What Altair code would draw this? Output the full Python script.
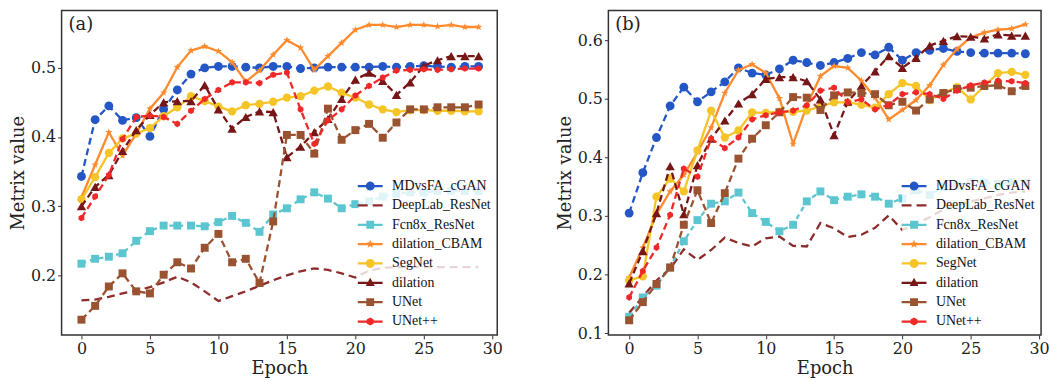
import math
import altair as alt
import pandas as pd

epochs = list(range(30))
names = ["MDvsFA_cGAN", "DeepLab_ResNet", "Fcn8x_ResNet", "dilation_CBAM",
         "SegNet", "dilation", "UNet", "UNet++"]
colors = ["#2457c5", "#8e2b2b", "#5cc6d0", "#ff8b2e",
          "#f5c426", "#761616", "#9a5330", "#f02828"]
panel_labels = ["(a)", "(b)"]
x_ticks = [0, 5, 10, 15, 20, 25, 30]
y_ticks_a = [0.2, 0.3, 0.4, 0.5]
y_ticks_b = [0.1, 0.2, 0.3, 0.4, 0.5, 0.6]

# ---- panel (a) values ----
a_mdvsfa = [0.343, 0.425, 0.445, 0.424, 0.428, 0.401, 0.44, 0.468, 0.491, 0.500,
            0.502, 0.502, 0.501, 0.500, 0.502, 0.502, 0.499, 0.500, 0.501, 0.501,
            0.501, 0.501, 0.502, 0.501, 0.502, 0.503, 0.502, 0.501, 0.502, 0.502]
a_deeplab = [0.164, 0.165, 0.169, 0.174, 0.178, 0.183, 0.19, 0.198, 0.19, 0.177,
             0.163, 0.17, 0.177, 0.185, 0.193, 0.2, 0.206, 0.21, 0.208, 0.203,
             0.197, 0.207, 0.211, 0.212, 0.212, 0.212, 0.212, 0.212, 0.212, 0.212]
a_fcn = [0.217, 0.224, 0.227, 0.232, 0.25, 0.264, 0.272, 0.272, 0.272, 0.271,
         0.277, 0.286, 0.276, 0.263, 0.288, 0.297, 0.31, 0.32, 0.311, 0.297,
         0.303, 0.307, 0.314, 0.318, 0.32, 0.32, 0.322, 0.322, 0.322, 0.322]
a_cbam = [0.313, 0.36, 0.407, 0.373, 0.405, 0.441, 0.464, 0.501, 0.525, 0.531,
          0.524, 0.508, 0.48, 0.496, 0.519, 0.54, 0.529, 0.497, 0.517, 0.536,
          0.555, 0.562, 0.562, 0.559, 0.562, 0.562, 0.56, 0.562, 0.559, 0.559]
a_segnet = [0.31, 0.342, 0.377, 0.398, 0.405, 0.413, 0.43, 0.443, 0.459, 0.452,
            0.444, 0.437, 0.446, 0.448, 0.451, 0.457, 0.459, 0.467, 0.473, 0.464,
            0.457, 0.447, 0.44, 0.436, 0.439, 0.439, 0.438, 0.438, 0.437, 0.437]
a_dilation = [0.30, 0.328, 0.345, 0.38, 0.41, 0.432, 0.45, 0.452, 0.452, 0.475,
              0.44, 0.412, 0.429, 0.437, 0.436, 0.371, 0.386, 0.407, 0.426, 0.455,
              0.483, 0.493, 0.481, 0.461, 0.479, 0.503, 0.511, 0.517, 0.517, 0.517]
a_unet = [0.136, 0.156, 0.184, 0.203, 0.177, 0.174, 0.201, 0.219, 0.21, 0.24,
          0.26, 0.219, 0.224, 0.189, 0.278, 0.403, 0.403, 0.376, 0.441, 0.396,
          0.41, 0.419, 0.399, 0.421, 0.44, 0.44, 0.443, 0.443, 0.443, 0.447]
a_unetpp = [0.283, 0.314, 0.345, 0.397, 0.429, 0.431, 0.429, 0.419, 0.438, 0.455,
            0.468, 0.479, 0.479, 0.478, 0.49, 0.493, 0.44, 0.39, 0.424, 0.44,
            0.46, 0.474, 0.486, 0.496, 0.497, 0.498, 0.497, 0.498, 0.499, 0.499]

# ---- panel (b) values ----
b_mdvsfa = [0.305, 0.374, 0.434, 0.488, 0.52, 0.495, 0.512, 0.529, 0.553, 0.544,
            0.541, 0.551, 0.566, 0.562, 0.557, 0.562, 0.569, 0.579, 0.575, 0.588,
            0.566, 0.579, 0.583, 0.586, 0.581, 0.579, 0.578, 0.578, 0.578, 0.577]
b_deeplab = [0.135, 0.162, 0.19, 0.21, 0.243, 0.225, 0.242, 0.263, 0.254, 0.248,
             0.262, 0.265, 0.249, 0.248, 0.288, 0.279, 0.264, 0.268, 0.28, 0.301,
             0.276, 0.287, 0.298, 0.311, 0.318, 0.325, 0.33, 0.336, 0.34, 0.342]
b_fcn = [0.128, 0.161, 0.181, 0.212, 0.257, 0.293, 0.321, 0.325, 0.34, 0.305,
         0.29, 0.274, 0.285, 0.325, 0.342, 0.327, 0.333, 0.337, 0.333, 0.321,
         0.33, 0.344, 0.336, 0.35, 0.352, 0.358, 0.357, 0.355, 0.358, 0.356]
b_cbam = [0.195, 0.246, 0.303, 0.342, 0.37, 0.409, 0.451, 0.51, 0.549, 0.559,
          0.544, 0.501, 0.423, 0.488, 0.539, 0.556, 0.553, 0.531, 0.502, 0.465,
          0.481, 0.498, 0.523, 0.558, 0.585, 0.605, 0.613, 0.618, 0.62, 0.627]
b_segnet = [0.19, 0.197, 0.333, 0.364, 0.342, 0.412, 0.48, 0.434, 0.446, 0.477,
            0.476, 0.478, 0.478, 0.48, 0.487, 0.494, 0.494, 0.49, 0.485, 0.508,
            0.527, 0.522, 0.498, 0.51, 0.52, 0.499, 0.522, 0.544, 0.546, 0.541]
b_dilation = [0.185, 0.24, 0.305, 0.385, 0.303, 0.387, 0.432, 0.463, 0.492, 0.508,
              0.534, 0.537, 0.537, 0.53, 0.499, 0.438, 0.495, 0.522, 0.547, 0.573,
              0.553, 0.57, 0.591, 0.599, 0.607, 0.606, 0.603, 0.61, 0.608, 0.608]
b_unet = [0.122, 0.153, 0.184, 0.212, 0.285, 0.344, 0.288, 0.339, 0.398, 0.432,
          0.455, 0.477, 0.503, 0.502, 0.481, 0.506, 0.511, 0.51, 0.508, 0.489,
          0.495, 0.48, 0.499, 0.51, 0.517, 0.519, 0.522, 0.523, 0.513, 0.522]
b_unetpp = [0.161, 0.206, 0.246, 0.302, 0.381, 0.367, 0.432, 0.416, 0.434, 0.465,
            0.472, 0.477, 0.48, 0.489, 0.514, 0.519, 0.494, 0.499, 0.482, 0.49,
            0.508, 0.511, 0.508, 0.5, 0.514, 0.523, 0.528, 0.531, 0.53, 0.527]

series_a = [a_mdvsfa, a_deeplab, a_fcn, a_cbam, a_segnet, a_dilation, a_unet, a_unetpp]
series_b = [b_mdvsfa, b_deeplab, b_fcn, b_cbam, b_segnet, b_dilation, b_unet, b_unetpp]


def build_df(arrs):
    rows = []
    for n, arr in zip(names, arrs):
        for e, v in zip(epochs, arr):
            rows.append({"epoch": e, "value": v, "series": n})
    return pd.DataFrame(rows)


# ---- marker geometry (style only) ----
def poly(pts):
    return "M" + "L".join(f"{x:.3f},{y:.3f}" for x, y in pts) + "Z"


def circle_pts(r, n=20):
    return [(r * math.cos(2 * math.pi * k / n), r * math.sin(2 * math.pi * k / n)) for k in range(n)]


def star_pts(ro, ri):
    pts = []
    for k in range(10):
        a = -math.pi / 2 + k * math.pi / 5
        r = ro if k % 2 == 0 else ri
        pts.append((r * math.cos(a), r * math.sin(a)))
    return pts


def hex_pts(r):
    return [(r * math.cos(-math.pi / 2 + k * math.pi / 3), r * math.sin(-math.pi / 2 + k * math.pi / 3)) for k in range(6)]


def rect(x0, x1, t):
    return [(x0, -t), (x1, -t), (x1, t), (x0, t)]


STAR = poly(star_pts(1.0, 0.42))
HEX = poly(hex_pts(1.0))

LSIZE = 324  # legend symbol size -> unit = 9 px
L, T = 1.39, 0.125
line_seg = poly(rect(-L, L, T))
legend_paths = [
    line_seg + poly(circle_pts(0.5)),
    poly(rect(-L, -0.28, T)) + poly(rect(0.28, L, T)),
    line_seg + poly(rect(-0.44, 0.44, 0.44)),
    line_seg + poly(star_pts(0.5, 0.21)),
    line_seg + poly(circle_pts(0.5)),
    line_seg + poly([(0, -0.56), (0.5, 0.36), (-0.5, 0.36)]),
    line_seg + poly(rect(-0.44, 0.44, 0.44)),
    line_seg + poly(hex_pts(0.45)),
]

dash = {"MDvsFA_cGAN": [7, 4], "DeepLab_ResNet": [8, 5], "Fcn8x_ResNet": [5, 4],
        "dilation_CBAM": None, "SegNet": None, "dilation": [7, 4],
        "UNet": [7, 4], "UNet++": [7, 4]}
markers = {"MDvsFA_cGAN": ("circle", 80), "DeepLab_ResNet": None,
           "Fcn8x_ResNet": ("square", 64), "dilation_CBAM": (STAR, 60),
           "SegNet": ("circle", 70), "dilation": ("triangle-up", 90),
           "UNet": ("square", 64), "UNet++": (HEX, 45)}

FONT = "DejaVu Serif"
LFONT = "Liberation Serif"


def panel(df, label, xdom, ydom, yticks, width):
    x = alt.X("epoch:Q", scale=alt.Scale(domain=xdom, nice=False, zero=False),
              axis=alt.Axis(values=x_ticks, title="Epoch", format="d"))
    y = alt.Y("value:Q", scale=alt.Scale(domain=ydom, nice=False, zero=False),
              axis=alt.Axis(values=yticks, title="Metrix value", format=".1f"))
    layers = []
    for n, c in zip(names, colors):
        base = alt.Chart(df).transform_filter(alt.datum.series == n)
        if dash[n]:
            ln = base.mark_line(color=c, strokeWidth=2.3, strokeDash=dash[n])
        else:
            ln = base.mark_line(color=c, strokeWidth=2.3)
        layers.append(ln.encode(x=x, y=y))
        if markers[n]:
            shp, sz = markers[n]
            layers.append(base.mark_point(shape=shp, size=sz, filled=True, color=c,
                                          opacity=1).encode(x=x, y=y))
    leg = alt.Chart(df).transform_filter(alt.datum.epoch < 0).mark_point(
        filled=True, size=LSIZE, opacity=1).encode(
        x=x, y=y,
        color=alt.Color("series:N", scale=alt.Scale(domain=names, range=colors),
                        legend=alt.Legend(title=None)),
        shape=alt.Shape("series:N", scale=alt.Scale(domain=names, range=legend_paths),
                        legend=alt.Legend(title=None)),
    )
    txt = alt.Chart(pd.DataFrame({"t": [label]})).mark_text(
        align="left", baseline="top", font=FONT, fontSize=18, color="#222"
    ).encode(x=alt.value(7), y=alt.value(6), text="t:N")
    return alt.layer(*layers, leg, txt).properties(width=width, height=327)


pa = panel(build_df(series_a), panel_labels[0], [-1.45, 30.36], [0.114, 0.583], y_ticks_a, 439)
pb = panel(build_df(series_b), panel_labels[1], [-1.52, 30.15], [0.097, 0.651], y_ticks_b, 436)

chart = alt.hconcat(pa, pb, spacing=52).resolve_scale(
    color="independent", shape="independent"
).resolve_legend(color="independent", shape="independent").properties(
    padding={"left": 0, "top": 0, "right": 0, "bottom": 0}
).configure_view(stroke="#333", strokeWidth=1.5).configure_axis(
    labelFont=FONT, labelFontSize=16, titleFont=FONT, titleFontSize=18,
    titleFontWeight="normal", labelColor="#222", titleColor="#222",
    tickColor="#333", tickSize=4, domain=False, grid=False, labelPadding=2,
    titlePadding=3
).configure_legend(
    orient="bottom-right", offset=3, padding=3,
    fillColor="rgba(255,255,255,0.8)", labelFont=LFONT, labelFontSize=14,
    labelColor="#111", symbolSize=LSIZE, symbolStrokeWidth=0, symbolOpacity=1,
    labelOffset=13, rowPadding=3.5
)

chart.save("out.html", embed_options={"renderer": "svg", "actions": False})
